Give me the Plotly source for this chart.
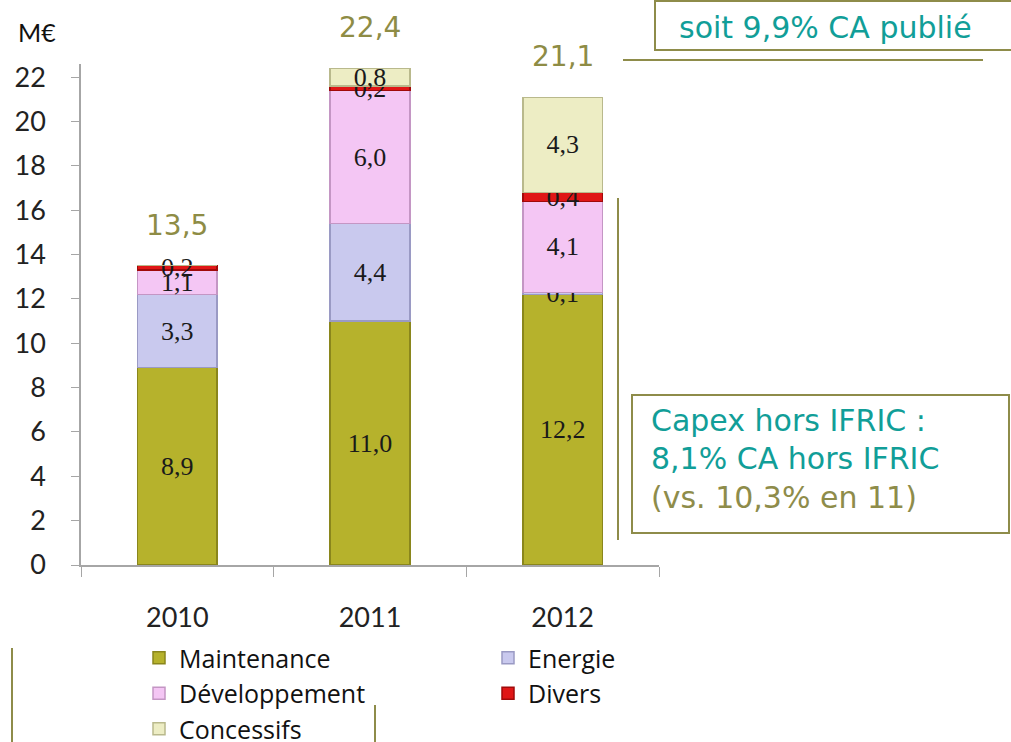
import plotly.graph_objects as go

years = ["2010", "2011", "2012"]
maintenance = [8.9, 11.0, 12.2]
energie = [3.3, 4.4, 0.1]
developpement = [1.1, 6.0, 4.1]
divers = [0.2, 0.2, 0.4]
concessifs = [0.0, 0.8, 4.3]
totals = [13.5, 22.4, 21.1]
y_ticks = list(range(0, 23, 2))

series = [
    ("Maintenance", maintenance, "#B6B22C", "#8A861C", "legend"),
    ("Energie", energie, "#C9C9EE", "#9A9AC4", "legend2"),
    ("Développement", developpement, "#F4C6F4", "#C496C4", "legend"),
    ("Divers", divers, "#E01616", "#A00A0A", "legend2"),
    ("Concessifs", concessifs, "#EDEDC4", "#B9B98C", "legend"),
]

W, H = 1011, 742
L, R, T, B = 81, 659, 64, 565


def px(x):
    return x / W


def py(y):
    return 1 - y / H


def fmt(v):
    return ("%.1f" % v).replace(".", ",")


fig = go.Figure()
for i, (name, vals, col, edge, leg) in enumerate(series):
    fig.add_trace(go.Bar(
        x=years, y=vals, name=name,
        marker=dict(color=col, line=dict(color=edge, width=1.5)),
        text=[fmt(v) if v > 0 else "" for v in vals],
        textposition="inside", insidetextanchor="middle",
        constraintext="none", textangle=0, cliponaxis=False,
        textfont=dict(family="Liberation Serif", size=26, color="#1a1a1a"),
        legend=leg, legendgroup=name,
        showlegend=True,
    ))

for i, tot in enumerate(totals):
    fig.add_annotation(x=i, y=tot, text=fmt(tot), showarrow=False,
                       xanchor="center", yanchor="bottom", yshift=22,
                       font=dict(family="DejaVu Sans", size=28, color="#8E8C45"))

olive = "#8E8C4A"
teal = "#119E98"

# "M€"
fig.add_annotation(xref="paper", yref="paper", x=px(16), y=py(32), xanchor="left",
                   yanchor="middle", text="M€", showarrow=False,
                   font=dict(family="Lato", size=25, color="#111"))

# box 1
fig.add_shape(type="rect", xref="paper", yref="paper", x0=px(655), x1=px(1014),
              y0=py(50), y1=py(1), line=dict(color=olive, width=2), fillcolor="white")
fig.add_annotation(xref="paper", yref="paper", x=px(825), y=py(28), text="soit 9,9% CA publié",
                   showarrow=False, xanchor="center", yanchor="middle",
                   font=dict(family="DejaVu Sans", size=30, color=teal))
fig.add_shape(type="line", xref="paper", yref="paper", x0=px(623), x1=px(983),
              y0=py(60), y1=py(60), line=dict(color=olive, width=2))

# box 2
fig.add_shape(type="rect", xref="paper", yref="paper", x0=px(632), x1=px(1009),
              y0=py(533), y1=py(395), line=dict(color=olive, width=2), fillcolor="white")
for txt, yy, c in [("Capex hors IFRIC :", 420, teal), ("8,1% CA hors IFRIC", 459, teal),
                   ("(vs. 10,3% en 11)", 497, olive)]:
    fig.add_annotation(xref="paper", yref="paper", x=px(649), y=py(yy), xanchor="left",
                       yanchor="middle", text=txt, showarrow=False,
                       font=dict(family="DejaVu Sans", size=30, color=c))

# decorative lines
for x, y0, y1 in [(618, 198, 540), (12, 648, 745), (375, 705, 745)]:
    fig.add_shape(type="line", xref="paper", yref="paper", x0=px(x), x1=px(x),
                  y0=py(y0), y1=py(y1), line=dict(color=olive, width=2))

fig.update_layout(
    width=W, height=H, barmode="stack", bargap=0.586,
    margin=dict(l=0, r=0, t=0, b=0, pad=0, autoexpand=False),
    plot_bgcolor="white", paper_bgcolor="white",
    font=dict(family="Lato", color="#222"),
    xaxis=dict(type="category", domain=[L / W, R / W], range=[-0.5, 2.5], showline=True,
               linecolor="#A6A6A6", linewidth=1.5, automargin=False,
               ticks="outside", tickson="boundaries", ticklen=10, tickcolor="#A6A6A6",
               tickfont=dict(family="Lato", size=27, color="#222"), ticklabelstandoff=28,
               showgrid=False, zeroline=False),
    yaxis=dict(domain=[1 - B / H, 1 - T / H], range=[0, 22.6], tickvals=y_ticks,
               showline=True, linecolor="#A6A6A6", automargin=False,
               linewidth=1.5, ticks="outside", ticklen=8, tickcolor="#A6A6A6",
               tickfont=dict(family="Lato", size=27, color="#222"), ticklabelstandoff=20,
               showgrid=False, zeroline=False),
    legend=dict(x=px(139), y=py(635), xanchor="left", yanchor="top",
                traceorder="grouped", tracegroupgap=0,
                font=dict(family="Open Sans", size=25, color="#111"), bgcolor="rgba(0,0,0,0)"),
    legend2=dict(x=px(488), y=py(635), xanchor="left", yanchor="top",
                 traceorder="grouped", tracegroupgap=0,
                 font=dict(family="Open Sans", size=25, color="#111"), bgcolor="rgba(0,0,0,0)"),
    showlegend=True,
)

fig.write_html("out.html", config={"displayModeBar": False},
               post_script="document.body.style.margin='0';document.body.style.overflow='hidden';")
